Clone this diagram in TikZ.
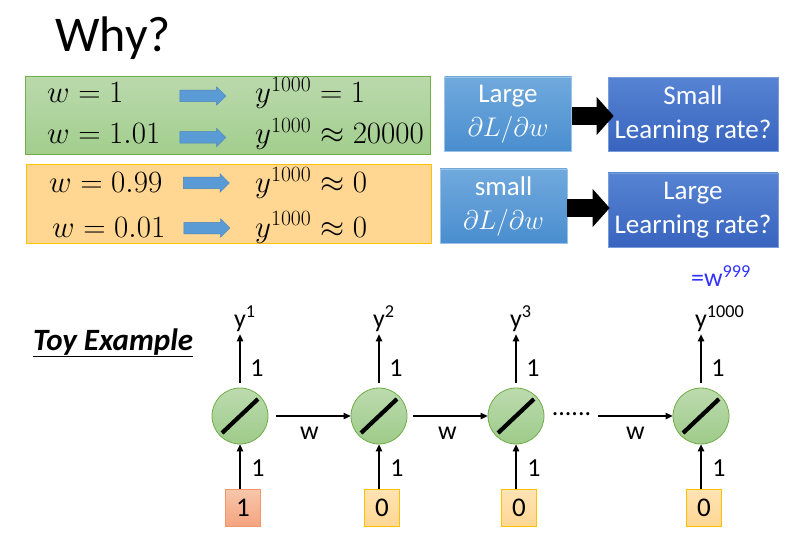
\RequirePackage{fix-cm}
\documentclass[tikz,border=0pt]{standalone}
\usepackage{fontspec}
\setmainfont{Carlito}
\usetikzlibrary{arrows.meta,shapes.arrows,positioning}
\definecolor{leafgreen}{HTML}{70AD47}
\definecolor{panelgreentop}{HTML}{BAD9AC}
\definecolor{panelgreenbot}{HTML}{A2CE8D}
\definecolor{amber}{HTML}{FFC000}
\definecolor{paneltan}{HTML}{FFD793}
\definecolor{arrowblue}{HTML}{5B9BD5}
\definecolor{arrowedge}{HTML}{4A84BC}
\definecolor{skytop}{HTML}{70A9DD}
\definecolor{skybot}{HTML}{4A8ECF}
\definecolor{navytop}{HTML}{5683D2}
\definecolor{navybot}{HTML}{3864BF}
\definecolor{salmontop}{HTML}{F8C6AB}
\definecolor{salmonbot}{HTML}{F4A47F}
\definecolor{salmonedge}{HTML}{F0966A}
\definecolor{cellgreentop}{HTML}{BCDBAE}
\definecolor{cellgreenbot}{HTML}{9ECB8A}
\definecolor{labelblue}{HTML}{3333FF}

\begin{document}
\begin{tikzpicture}[x=1pt,y=-1pt,
  panel/.style={line width=1pt,inner sep=0pt,minimum width=405pt,minimum height=78pt},
  eqtext/.style={anchor=base west,inner sep=0pt,font=\fontsize{31}{36}\selectfont},
  fatarrow/.style={single arrow,fill=arrowblue,draw=arrowedge,line width=0.5pt,
    minimum height=46pt,minimum width=18pt,inner ysep=5.5pt,inner xsep=0pt,
    single arrow head extend=3.5pt},
  gradbox/.style={top color=skytop,bottom color=skybot,draw=skytop!70!white,line width=0.6pt,
    text=white,align=center,minimum width=127pt,minimum height=74pt,
    font=\fontsize{27}{34}\selectfont},
  ratebox/.style={top color=navytop,bottom color=navybot,draw=navytop!80!white,line width=0.6pt,
    text=white,align=center,minimum width=170pt,minimum height=74pt,
    font=\fontsize{27}{34}\selectfont},
  bigflow/.style={line width=18pt,-{Triangle[length=17pt,width=37pt]}},
  neuron/.style={circle,minimum size=56pt,draw=leafgreen,line width=0.8pt,
    top color=cellgreentop,bottom color=cellgreenbot,
    path picture={\draw[black,line width=4.2pt]
      ([shift={(-18pt,-17pt)}]path picture bounding box.center) -- ++(36pt,34pt);}},
  onebox/.style={minimum width=35pt,minimum height=37pt,inner sep=0pt,line width=0.8pt,
    font=\fontsize{27}{30}\selectfont},
  small/.style={font=\fontsize{26}{30}\selectfont},
  link/.style={-{Triangle[length=7pt,width=6.5pt]},line width=1.3pt}
]
  \useasboundingbox[fill=white] (0,0) rectangle (792,540);

  % title
  \node[anchor=base west,inner sep=0pt,font=\fontsize{50}{56}\selectfont] (title) at (55,52) {Why?};

  % the two cases
  \node[panel,draw=leafgreen,top color=panelgreentop,bottom color=panelgreenbot] (grow) at (228,116) {};
  \node[panel,draw=amber,fill=paneltan] (fade) at (228.5,204) {};

  \node[eqtext] (wa) at (47,103) {$w=1$};
  \node[eqtext] (wb) at (47,144) {$w=1.01$};
  \node[eqtext] (wc) at (49,193) {$w=0.99$};
  \node[eqtext] (wd) at (52,237) {$w=0.01$};
  \node[fatarrow] (pa) at (200,96) {};
  \node[fatarrow] (pb) at (200,137.5) {};
  \node[fatarrow] (pc) at (203.5,183) {};
  \node[fatarrow] (pd) at (204,228) {};
  \node[eqtext] (ya) at (255,103) {$y^{1000}=1$};
  \node[eqtext] (yb) at (255,144) {$y^{1000}\approx 20000$};
  \node[eqtext] (yc) at (255,193) {$y^{1000}\approx 0$};
  \node[eqtext] (yd) at (255,237) {$y^{1000}\approx 0$};

  % gradient and learning rate
  \node[gradbox] (gradlarge) at (508,114) {Large\\$\partial L/\partial w$};
  \node[gradbox] (gradsmall) at (503.5,206) {small\\$\partial L/\partial w$};
  \node[ratebox] (ratesmall) at (693,114.5) {Small\\Learning rate?};
  \node[ratebox] (ratelarge) at (693,210) {Large\\Learning rate?};
  \draw[bigflow,shorten >=-6pt] ([yshift=-2pt]gradlarge.east) -- ([yshift=-2pt]gradlarge.east -| ratesmall.west);
  \draw[bigflow,shorten >=-2pt] ([yshift=-2pt]gradsmall.east) -- ([yshift=-2pt]gradsmall.east -| ratelarge.west);

  % toy example
  \node[anchor=base west,inner sep=0pt,font=\fontsize{31}{34}\selectfont] (toy) at (33,350)
    {\underline{\textbf{\textit{Toy Example}}}};
  \node[small,text=labelblue] (power) at (721,276) {=w\textsuperscript{999}};

  \foreach \n/\x/\v/\t in {1/240/1/1,2/379/0/2,3/516/0/3,4/701/0/1000}{
    \node[neuron] (c\n) at (\x,416) {};
    \node[small,anchor=base,inner sep=3pt] (top\n) at (\x,327) {y\rlap{\textsuperscript{\t}}};
    \node[onebox] (in\n) at (\x+3,508) {\v};
    \draw[link,shorten <=5pt] (c\n.north) -- (top\n);
    \draw[link] (in\n.north -| c\n) -- (c\n.south);
    \node[small] at (\x+17,368) {1};
    \node[small] at (\x+18,468) {1};
  }
  \node[onebox,draw=salmonedge,top color=salmontop,bottom color=salmonbot] at (in1) {1};
  \foreach \n in {2,3,4}
    \node[onebox,draw=amber,top color=paneltan!70!white,bottom color=paneltan] at (in\n) {0};

  \node[small,anchor=base] (dots) at (571.5,415) {......};
  \coordinate (gap) at (598,416);
  \draw[link,shorten <=8pt] (c1) -- node[small,below=7pt] {w} (c2);
  \draw[link,shorten <=6pt] (c2) -- node[small,below=7pt] {w} (c3);
  \draw[link] (gap) -- node[small,below=7pt] {w} (c4);
\end{tikzpicture}
\end{document}
